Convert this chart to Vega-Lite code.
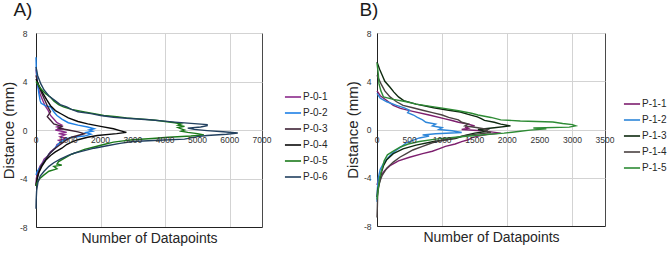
{
  "$schema": "https://vega.github.io/schema/vega-lite/v6.json",
  "padding": 0,
  "background": "white",
  "config": {
    "font": "Liberation Sans",
    "view": {"stroke": "#4a4a4a", "strokeWidth": 1},
    "axis": {
      "grid": true,
      "gridColor": "#d3d3d3",
      "gridWidth": 1,
      "domainColor": "#222222",
      "ticks": false,
      "labelFont": "Liberation Sans",
      "labelFontSize": 8.5,
      "labelColor": "#333333",
      "titleFont": "Liberation Sans",
      "titleFontSize": 14,
      "titleFontWeight": "normal",
      "titleColor": "#262626"
    },
    "legend": {
      "labelFont": "Liberation Sans",
      "labelFontSize": 10,
      "labelColor": "#262626",
      "symbolType": "stroke",
      "symbolSize": 260,
      "symbolStrokeWidth": 1.6,
      "rowPadding": 2,
      "labelOffset": 1,
      "padding": 0
    },
    "title": {"font": "Liberation Sans", "fontSize": 19, "fontWeight": "normal", "color": "#1a1a1a", "anchor": "start"},
    "concat": {"spacing": 15}
  },
  "datasets": {
    "a": [
      {"s":"P-0-1","d":5.0,"n":0},{"s":"P-0-1","d":4.2,"n":30},{"s":"P-0-1","d":3.6,"n":60},{"s":"P-0-1","d":3.0,"n":120},{"s":"P-0-1","d":2.5,"n":200},{"s":"P-0-1","d":2.0,"n":280},{"s":"P-0-1","d":1.6,"n":380},{"s":"P-0-1","d":1.2,"n":450},{"s":"P-0-1","d":0.9,"n":550},{"s":"P-0-1","d":0.6,"n":650},{"s":"P-0-1","d":0.4,"n":800},{"s":"P-0-1","d":0.25,"n":650},{"s":"P-0-1","d":0.1,"n":850},{"s":"P-0-1","d":0.0,"n":600},{"s":"P-0-1","d":-0.1,"n":800},{"s":"P-0-1","d":-0.2,"n":950},{"s":"P-0-1","d":-0.3,"n":700},{"s":"P-0-1","d":-0.4,"n":900},{"s":"P-0-1","d":-0.55,"n":750},{"s":"P-0-1","d":-0.7,"n":950},{"s":"P-0-1","d":-0.85,"n":700},{"s":"P-0-1","d":-1.0,"n":800},{"s":"P-0-1","d":-1.2,"n":650},{"s":"P-0-1","d":-1.5,"n":600},{"s":"P-0-1","d":-1.8,"n":450},{"s":"P-0-1","d":-2.1,"n":380},{"s":"P-0-1","d":-2.4,"n":250},{"s":"P-0-1","d":-2.7,"n":200},{"s":"P-0-1","d":-3.0,"n":120},{"s":"P-0-1","d":-3.5,"n":50},{"s":"P-0-1","d":-4.0,"n":10},{"s":"P-0-1","d":-4.5,"n":0},

      {"s":"P-0-2","d":6.0,"n":0},{"s":"P-0-2","d":5.0,"n":10},{"s":"P-0-2","d":4.0,"n":40},{"s":"P-0-2","d":3.0,"n":90},{"s":"P-0-2","d":2.4,"n":130},{"s":"P-0-2","d":2.2,"n":160},{"s":"P-0-2","d":2.0,"n":300},{"s":"P-0-2","d":1.9,"n":450},{"s":"P-0-2","d":1.5,"n":550},{"s":"P-0-2","d":1.2,"n":650},{"s":"P-0-2","d":0.9,"n":800},{"s":"P-0-2","d":0.6,"n":1000},{"s":"P-0-2","d":0.4,"n":1300},{"s":"P-0-2","d":0.25,"n":1600},{"s":"P-0-2","d":0.1,"n":1800},{"s":"P-0-2","d":0.0,"n":1650},{"s":"P-0-2","d":-0.1,"n":1750},{"s":"P-0-2","d":-0.2,"n":1550},{"s":"P-0-2","d":-0.35,"n":1700},{"s":"P-0-2","d":-0.5,"n":1500},{"s":"P-0-2","d":-0.6,"n":1100},{"s":"P-0-2","d":-0.8,"n":900},{"s":"P-0-2","d":-1.0,"n":750},{"s":"P-0-2","d":-1.3,"n":650},{"s":"P-0-2","d":-1.6,"n":550},{"s":"P-0-2","d":-2.0,"n":400},{"s":"P-0-2","d":-2.4,"n":300},{"s":"P-0-2","d":-2.8,"n":200},{"s":"P-0-2","d":-3.1,"n":120},{"s":"P-0-2","d":-3.4,"n":40},{"s":"P-0-2","d":-3.7,"n":0},

      {"s":"P-0-3","d":4.5,"n":0},{"s":"P-0-3","d":3.8,"n":60},{"s":"P-0-3","d":3.2,"n":150},{"s":"P-0-3","d":2.6,"n":250},{"s":"P-0-3","d":2.0,"n":350},{"s":"P-0-3","d":1.5,"n":450},{"s":"P-0-3","d":1.1,"n":350},{"s":"P-0-3","d":0.8,"n":450},{"s":"P-0-3","d":0.5,"n":550},{"s":"P-0-3","d":0.3,"n":800},{"s":"P-0-3","d":0.15,"n":700},{"s":"P-0-3","d":0.0,"n":1000},{"s":"P-0-3","d":-0.15,"n":1300},{"s":"P-0-3","d":-0.3,"n":1500},{"s":"P-0-3","d":-0.45,"n":1300},{"s":"P-0-3","d":-0.6,"n":1100},{"s":"P-0-3","d":-0.8,"n":950},{"s":"P-0-3","d":-1.0,"n":850},{"s":"P-0-3","d":-1.3,"n":700},{"s":"P-0-3","d":-1.6,"n":550},{"s":"P-0-3","d":-2.0,"n":400},{"s":"P-0-3","d":-2.5,"n":280},{"s":"P-0-3","d":-3.0,"n":150},{"s":"P-0-3","d":-3.5,"n":80},{"s":"P-0-3","d":-4.0,"n":30},{"s":"P-0-3","d":-4.6,"n":0},

      {"s":"P-0-4","d":4.2,"n":0},{"s":"P-0-4","d":3.6,"n":100},{"s":"P-0-4","d":3.0,"n":220},{"s":"P-0-4","d":2.5,"n":330},{"s":"P-0-4","d":2.0,"n":450},{"s":"P-0-4","d":1.6,"n":600},{"s":"P-0-4","d":1.3,"n":800},{"s":"P-0-4","d":1.0,"n":1000},{"s":"P-0-4","d":0.7,"n":1300},{"s":"P-0-4","d":0.5,"n":1600},{"s":"P-0-4","d":0.3,"n":2000},{"s":"P-0-4","d":0.1,"n":2400},{"s":"P-0-4","d":-0.05,"n":2600},{"s":"P-0-4","d":-0.2,"n":2800},{"s":"P-0-4","d":-0.3,"n":2500},{"s":"P-0-4","d":-0.45,"n":1900},{"s":"P-0-4","d":-0.6,"n":1600},{"s":"P-0-4","d":-0.8,"n":1300},{"s":"P-0-4","d":-1.0,"n":1100},{"s":"P-0-4","d":-1.2,"n":950},{"s":"P-0-4","d":-1.5,"n":800},{"s":"P-0-4","d":-1.8,"n":600},{"s":"P-0-4","d":-2.1,"n":450},{"s":"P-0-4","d":-2.5,"n":300},{"s":"P-0-4","d":-3.0,"n":180},{"s":"P-0-4","d":-3.5,"n":90},{"s":"P-0-4","d":-4.0,"n":40},{"s":"P-0-4","d":-4.6,"n":0},

      {"s":"P-0-5","d":4.0,"n":0},{"s":"P-0-5","d":3.7,"n":80},{"s":"P-0-5","d":3.4,"n":150},{"s":"P-0-5","d":3.0,"n":300},{"s":"P-0-5","d":2.7,"n":450},{"s":"P-0-5","d":2.4,"n":550},{"s":"P-0-5","d":2.1,"n":700},{"s":"P-0-5","d":1.9,"n":850},{"s":"P-0-5","d":1.7,"n":1100},{"s":"P-0-5","d":1.5,"n":1500},{"s":"P-0-5","d":1.35,"n":1800},{"s":"P-0-5","d":1.2,"n":2100},{"s":"P-0-5","d":1.1,"n":2500},{"s":"P-0-5","d":1.0,"n":2800},{"s":"P-0-5","d":0.9,"n":3300},{"s":"P-0-5","d":0.8,"n":3700},{"s":"P-0-5","d":0.7,"n":4000},{"s":"P-0-5","d":0.6,"n":4300},{"s":"P-0-5","d":0.5,"n":4500},{"s":"P-0-5","d":0.4,"n":4400},{"s":"P-0-5","d":0.3,"n":4600},{"s":"P-0-5","d":0.2,"n":4400},{"s":"P-0-5","d":0.1,"n":4500},{"s":"P-0-5","d":0.0,"n":4600},{"s":"P-0-5","d":-0.1,"n":4500},{"s":"P-0-5","d":-0.2,"n":4700},{"s":"P-0-5","d":-0.3,"n":5000},{"s":"P-0-5","d":-0.4,"n":5200},{"s":"P-0-5","d":-0.5,"n":4800},{"s":"P-0-5","d":-0.6,"n":4100},{"s":"P-0-5","d":-0.7,"n":3600},{"s":"P-0-5","d":-0.8,"n":3000},{"s":"P-0-5","d":-0.9,"n":2700},{"s":"P-0-5","d":-1.0,"n":2400},{"s":"P-0-5","d":-1.2,"n":2100},{"s":"P-0-5","d":-1.4,"n":1800},{"s":"P-0-5","d":-1.6,"n":1500},{"s":"P-0-5","d":-1.8,"n":1300},{"s":"P-0-5","d":-2.0,"n":1100},{"s":"P-0-5","d":-2.3,"n":900},{"s":"P-0-5","d":-2.6,"n":700},{"s":"P-0-5","d":-2.8,"n":650},{"s":"P-0-5","d":-2.9,"n":800},{"s":"P-0-5","d":-3.0,"n":550},{"s":"P-0-5","d":-3.2,"n":650},{"s":"P-0-5","d":-3.4,"n":400},{"s":"P-0-5","d":-3.7,"n":250},{"s":"P-0-5","d":-4.0,"n":120},{"s":"P-0-5","d":-4.3,"n":40},{"s":"P-0-5","d":-4.6,"n":0},

      {"s":"P-0-6","d":5.2,"n":0},{"s":"P-0-6","d":4.5,"n":50},{"s":"P-0-6","d":3.8,"n":150},{"s":"P-0-6","d":3.3,"n":250},{"s":"P-0-6","d":2.8,"n":400},{"s":"P-0-6","d":2.4,"n":600},{"s":"P-0-6","d":2.1,"n":750},{"s":"P-0-6","d":1.9,"n":950},{"s":"P-0-6","d":1.7,"n":1100},{"s":"P-0-6","d":1.5,"n":1300},{"s":"P-0-6","d":1.35,"n":1700},{"s":"P-0-6","d":1.2,"n":2000},{"s":"P-0-6","d":1.05,"n":2400},{"s":"P-0-6","d":0.95,"n":2900},{"s":"P-0-6","d":0.85,"n":3500},{"s":"P-0-6","d":0.75,"n":3900},{"s":"P-0-6","d":0.65,"n":4300},{"s":"P-0-6","d":0.55,"n":4800},{"s":"P-0-6","d":0.45,"n":5300},{"s":"P-0-6","d":0.35,"n":5300},{"s":"P-0-6","d":0.25,"n":5100},{"s":"P-0-6","d":0.15,"n":4700},{"s":"P-0-6","d":0.05,"n":4900},{"s":"P-0-6","d":-0.05,"n":5300},{"s":"P-0-6","d":-0.15,"n":5800},{"s":"P-0-6","d":-0.25,"n":6250},{"s":"P-0-6","d":-0.35,"n":5900},{"s":"P-0-6","d":-0.45,"n":5300},{"s":"P-0-6","d":-0.55,"n":5000},{"s":"P-0-6","d":-0.65,"n":4800},{"s":"P-0-6","d":-0.75,"n":4600},{"s":"P-0-6","d":-0.85,"n":3800},{"s":"P-0-6","d":-0.95,"n":3000},{"s":"P-0-6","d":-1.1,"n":2600},{"s":"P-0-6","d":-1.3,"n":2200},{"s":"P-0-6","d":-1.5,"n":1800},{"s":"P-0-6","d":-1.7,"n":1500},{"s":"P-0-6","d":-1.9,"n":1200},{"s":"P-0-6","d":-2.1,"n":1000},{"s":"P-0-6","d":-2.4,"n":750},{"s":"P-0-6","d":-2.7,"n":550},{"s":"P-0-6","d":-3.0,"n":400},{"s":"P-0-6","d":-3.4,"n":250},{"s":"P-0-6","d":-3.8,"n":130},{"s":"P-0-6","d":-4.3,"n":60},{"s":"P-0-6","d":-5.0,"n":20},{"s":"P-0-6","d":-5.8,"n":5},{"s":"P-0-6","d":-6.5,"n":0}
    ],
    "b": [
      {"s":"P-1-1","d":3.2,"n":0},{"s":"P-1-1","d":2.8,"n":50},{"s":"P-1-1","d":2.4,"n":150},{"s":"P-1-1","d":2.0,"n":250},{"s":"P-1-1","d":1.75,"n":360},{"s":"P-1-1","d":1.5,"n":550},{"s":"P-1-1","d":1.2,"n":800},{"s":"P-1-1","d":0.9,"n":1030},{"s":"P-1-1","d":0.75,"n":1150},{"s":"P-1-1","d":0.6,"n":1250},{"s":"P-1-1","d":0.45,"n":1400},{"s":"P-1-1","d":0.3,"n":1500},{"s":"P-1-1","d":0.2,"n":1350},{"s":"P-1-1","d":0.1,"n":1400},{"s":"P-1-1","d":0.0,"n":1300},{"s":"P-1-1","d":-0.1,"n":1600},{"s":"P-1-1","d":-0.2,"n":1750},{"s":"P-1-1","d":-0.3,"n":1900},{"s":"P-1-1","d":-0.4,"n":1700},{"s":"P-1-1","d":-0.55,"n":1550},{"s":"P-1-1","d":-0.7,"n":1450},{"s":"P-1-1","d":-0.85,"n":1400},{"s":"P-1-1","d":-1.0,"n":1300},{"s":"P-1-1","d":-1.2,"n":1200},{"s":"P-1-1","d":-1.4,"n":1050},{"s":"P-1-1","d":-1.6,"n":950},{"s":"P-1-1","d":-1.8,"n":850},{"s":"P-1-1","d":-2.0,"n":700},{"s":"P-1-1","d":-2.3,"n":500},{"s":"P-1-1","d":-2.6,"n":330},{"s":"P-1-1","d":-3.0,"n":200},{"s":"P-1-1","d":-3.4,"n":120},{"s":"P-1-1","d":-3.8,"n":60},{"s":"P-1-1","d":-4.2,"n":20},{"s":"P-1-1","d":-4.6,"n":0},

      {"s":"P-1-2","d":3.0,"n":0},{"s":"P-1-2","d":2.6,"n":50},{"s":"P-1-2","d":2.3,"n":150},{"s":"P-1-2","d":2.0,"n":300},{"s":"P-1-2","d":1.8,"n":420},{"s":"P-1-2","d":1.6,"n":500},{"s":"P-1-2","d":1.4,"n":470},{"s":"P-1-2","d":1.2,"n":560},{"s":"P-1-2","d":1.0,"n":620},{"s":"P-1-2","d":0.8,"n":700},{"s":"P-1-2","d":0.6,"n":750},{"s":"P-1-2","d":0.45,"n":900},{"s":"P-1-2","d":0.3,"n":850},{"s":"P-1-2","d":0.15,"n":1000},{"s":"P-1-2","d":0.0,"n":950},{"s":"P-1-2","d":-0.1,"n":1150},{"s":"P-1-2","d":-0.25,"n":1300},{"s":"P-1-2","d":-0.35,"n":900},{"s":"P-1-2","d":-0.45,"n":700},{"s":"P-1-2","d":-0.55,"n":800},{"s":"P-1-2","d":-0.7,"n":650},{"s":"P-1-2","d":-0.9,"n":550},{"s":"P-1-2","d":-1.1,"n":450},{"s":"P-1-2","d":-1.4,"n":380},{"s":"P-1-2","d":-1.7,"n":300},{"s":"P-1-2","d":-2.0,"n":230},{"s":"P-1-2","d":-2.4,"n":160},{"s":"P-1-2","d":-2.8,"n":100},{"s":"P-1-2","d":-3.3,"n":50},{"s":"P-1-2","d":-4.0,"n":20},{"s":"P-1-2","d":-5.0,"n":5},{"s":"P-1-2","d":-6.0,"n":0},

      {"s":"P-1-3","d":5.6,"n":0},{"s":"P-1-3","d":5.0,"n":40},{"s":"P-1-3","d":4.5,"n":80},{"s":"P-1-3","d":4.0,"n":120},{"s":"P-1-3","d":3.5,"n":200},{"s":"P-1-3","d":3.1,"n":260},{"s":"P-1-3","d":2.7,"n":330},{"s":"P-1-3","d":2.4,"n":410},{"s":"P-1-3","d":2.1,"n":600},{"s":"P-1-3","d":1.8,"n":870},{"s":"P-1-3","d":1.6,"n":1100},{"s":"P-1-3","d":1.45,"n":1280},{"s":"P-1-3","d":1.25,"n":1400},{"s":"P-1-3","d":1.05,"n":1540},{"s":"P-1-3","d":0.9,"n":1600},{"s":"P-1-3","d":0.75,"n":1650},{"s":"P-1-3","d":0.6,"n":1800},{"s":"P-1-3","d":0.45,"n":1900},{"s":"P-1-3","d":0.3,"n":2050},{"s":"P-1-3","d":0.15,"n":1800},{"s":"P-1-3","d":0.0,"n":1550},{"s":"P-1-3","d":-0.15,"n":1700},{"s":"P-1-3","d":-0.3,"n":1500},{"s":"P-1-3","d":-0.5,"n":1350},{"s":"P-1-3","d":-0.75,"n":1200},{"s":"P-1-3","d":-1.0,"n":870},{"s":"P-1-3","d":-1.3,"n":600},{"s":"P-1-3","d":-1.6,"n":400},{"s":"P-1-3","d":-2.0,"n":250},{"s":"P-1-3","d":-2.5,"n":150},{"s":"P-1-3","d":-3.0,"n":100},{"s":"P-1-3","d":-3.7,"n":60},{"s":"P-1-3","d":-4.4,"n":40},{"s":"P-1-3","d":-5.0,"n":10},{"s":"P-1-3","d":-5.6,"n":0},

      {"s":"P-1-4","d":4.5,"n":0},{"s":"P-1-4","d":3.8,"n":60},{"s":"P-1-4","d":3.2,"n":120},{"s":"P-1-4","d":2.7,"n":200},{"s":"P-1-4","d":2.3,"n":300},{"s":"P-1-4","d":2.0,"n":400},{"s":"P-1-4","d":1.8,"n":550},{"s":"P-1-4","d":1.6,"n":700},{"s":"P-1-4","d":1.4,"n":850},{"s":"P-1-4","d":1.2,"n":1000},{"s":"P-1-4","d":1.0,"n":1100},{"s":"P-1-4","d":0.8,"n":1250},{"s":"P-1-4","d":0.6,"n":1300},{"s":"P-1-4","d":0.45,"n":1400},{"s":"P-1-4","d":0.3,"n":1350},{"s":"P-1-4","d":0.15,"n":1550},{"s":"P-1-4","d":0.0,"n":1700},{"s":"P-1-4","d":-0.1,"n":1650},{"s":"P-1-4","d":-0.25,"n":1750},{"s":"P-1-4","d":-0.4,"n":1500},{"s":"P-1-4","d":-0.55,"n":1300},{"s":"P-1-4","d":-0.7,"n":1200},{"s":"P-1-4","d":-0.9,"n":1000},{"s":"P-1-4","d":-1.1,"n":850},{"s":"P-1-4","d":-1.4,"n":700},{"s":"P-1-4","d":-1.7,"n":550},{"s":"P-1-4","d":-2.0,"n":450},{"s":"P-1-4","d":-2.3,"n":350},{"s":"P-1-4","d":-2.7,"n":250},{"s":"P-1-4","d":-3.2,"n":150},{"s":"P-1-4","d":-3.8,"n":80},{"s":"P-1-4","d":-4.5,"n":30},{"s":"P-1-4","d":-5.5,"n":10},{"s":"P-1-4","d":-6.5,"n":5},{"s":"P-1-4","d":-7.3,"n":0},

      {"s":"P-1-5","d":5.5,"n":0},{"s":"P-1-5","d":4.6,"n":20},{"s":"P-1-5","d":3.8,"n":30},{"s":"P-1-5","d":3.2,"n":60},{"s":"P-1-5","d":2.7,"n":100},{"s":"P-1-5","d":2.5,"n":250},{"s":"P-1-5","d":2.3,"n":450},{"s":"P-1-5","d":2.1,"n":600},{"s":"P-1-5","d":1.9,"n":850},{"s":"P-1-5","d":1.75,"n":1030},{"s":"P-1-5","d":1.55,"n":1250},{"s":"P-1-5","d":1.35,"n":1450},{"s":"P-1-5","d":1.2,"n":1550},{"s":"P-1-5","d":1.0,"n":1750},{"s":"P-1-5","d":0.8,"n":1900},{"s":"P-1-5","d":0.7,"n":2200},{"s":"P-1-5","d":0.62,"n":2700},{"s":"P-1-5","d":0.5,"n":2850},{"s":"P-1-5","d":0.4,"n":3000},{"s":"P-1-5","d":0.3,"n":3050},{"s":"P-1-5","d":0.2,"n":2950},{"s":"P-1-5","d":0.12,"n":2400},{"s":"P-1-5","d":0.05,"n":2600},{"s":"P-1-5","d":-0.05,"n":2350},{"s":"P-1-5","d":-0.15,"n":2200},{"s":"P-1-5","d":-0.3,"n":1950},{"s":"P-1-5","d":-0.45,"n":1600},{"s":"P-1-5","d":-0.6,"n":1280},{"s":"P-1-5","d":-0.8,"n":900},{"s":"P-1-5","d":-1.0,"n":650},{"s":"P-1-5","d":-1.2,"n":480},{"s":"P-1-5","d":-1.45,"n":360},{"s":"P-1-5","d":-1.8,"n":250},{"s":"P-1-5","d":-2.1,"n":160},{"s":"P-1-5","d":-2.6,"n":110},{"s":"P-1-5","d":-3.2,"n":80},{"s":"P-1-5","d":-4.0,"n":40},{"s":"P-1-5","d":-4.9,"n":20},{"s":"P-1-5","d":-5.8,"n":0}
    ],
    "ta": [{"v":0},{"v":1000},{"v":2000},{"v":3000},{"v":4000},{"v":5000},{"v":6000},{"v":7000}],
    "tb": [{"v":0},{"v":500},{"v":1000},{"v":1500},{"v":2000},{"v":2500},{"v":3000},{"v":3500}]
  },
  "resolve": {"scale": {"color": "independent"}, "legend": {"color": "independent"}},
  "hconcat": [
    {
      "title": {"text": "A)", "offset": 9, "dx": 12},
      "width": 226,
      "height": 194,
      "layer": [
        {
          "data": {"name": "a"},
          "mark": {"type": "line", "strokeWidth": 1.4},
          "encoding": {
            "x": {"field": "n", "type": "quantitative", "title": "Number of Datapoints",
                  "scale": {"domain": [0, 7000], "nice": false},
                  "axis": {"values": [0,1000,2000,3000,4000,5000,6000,7000], "labels": false, "titlePadding": 4}},
            "y": {"field": "d", "type": "quantitative", "title": "Distance (mm)",
                  "scale": {"domain": [-8, 8], "nice": false},
                  "axis": {"values": [-8,-6,-4,-2,0,2,4,6,8], "labelExpr": "datum.value + ''", "labelPadding": 9, "titlePadding": 3, "titleFontSize": 15}},
            "color": {"field": "s", "type": "nominal",
                      "scale": {"domain": ["P-0-1","P-0-2","P-0-3","P-0-4","P-0-5","P-0-6"],
                                "range": ["#8b2a8b","#1e80e6","#3e2235","#0a0a0a","#1b7a1b","#22405f"]},
                      "legend": {"title": null, "orient": "none", "legendX": 248, "legendY": 55}},
            "order": {"field": "d", "type": "quantitative"}
          }
        },
        {
          "data": {"name": "ta"},
          "mark": {"type": "text", "dy": 10, "fontSize": 8.5, "font": "Liberation Sans", "color": "#333333"},
          "encoding": {
            "x": {"field": "v", "type": "quantitative", "title": "Number of Datapoints"},
            "y": {"datum": 0},
            "text": {"field": "v", "type": "quantitative", "format": "d"}
          }
        }
      ]
    },
    {
      "title": {"text": "B)", "offset": 9, "dx": 14},
      "width": 228,
      "height": 193,
      "layer": [
        {
          "data": {"name": "b"},
          "mark": {"type": "line", "strokeWidth": 1.4},
          "encoding": {
            "x": {"field": "n", "type": "quantitative", "title": "Number of Datapoints",
                  "scale": {"domain": [0, 3500], "nice": false},
                  "axis": {"values": [0,500,1000,1500,2000,2500,3000,3500], "labels": false, "titlePadding": 4}},
            "y": {"field": "d", "type": "quantitative", "title": "Distance (mm)",
                  "scale": {"domain": [-8, 8], "nice": false},
                  "axis": {"values": [-8,-6,-4,-2,0,2,4,6,8], "labelExpr": "datum.value + ''", "labelPadding": 6, "titlePadding": 3, "titleFontSize": 15}},
            "color": {"field": "s", "type": "nominal",
                      "scale": {"domain": ["P-1-1","P-1-2","P-1-3","P-1-4","P-1-5"],
                                "range": ["#7d1f6e","#2e86d9","#0e2a10","#4a4242","#2e8b35"]},
                      "legend": {"title": null, "orient": "none", "legendX": 246, "legendY": 62}},
            "order": {"field": "d", "type": "quantitative"}
          }
        },
        {
          "data": {"name": "tb"},
          "mark": {"type": "text", "dy": 10, "fontSize": 8.5, "font": "Liberation Sans", "color": "#333333"},
          "encoding": {
            "x": {"field": "v", "type": "quantitative", "title": "Number of Datapoints"},
            "y": {"datum": 0},
            "text": {"field": "v", "type": "quantitative", "format": "d"}
          }
        }
      ]
    }
  ]
}
